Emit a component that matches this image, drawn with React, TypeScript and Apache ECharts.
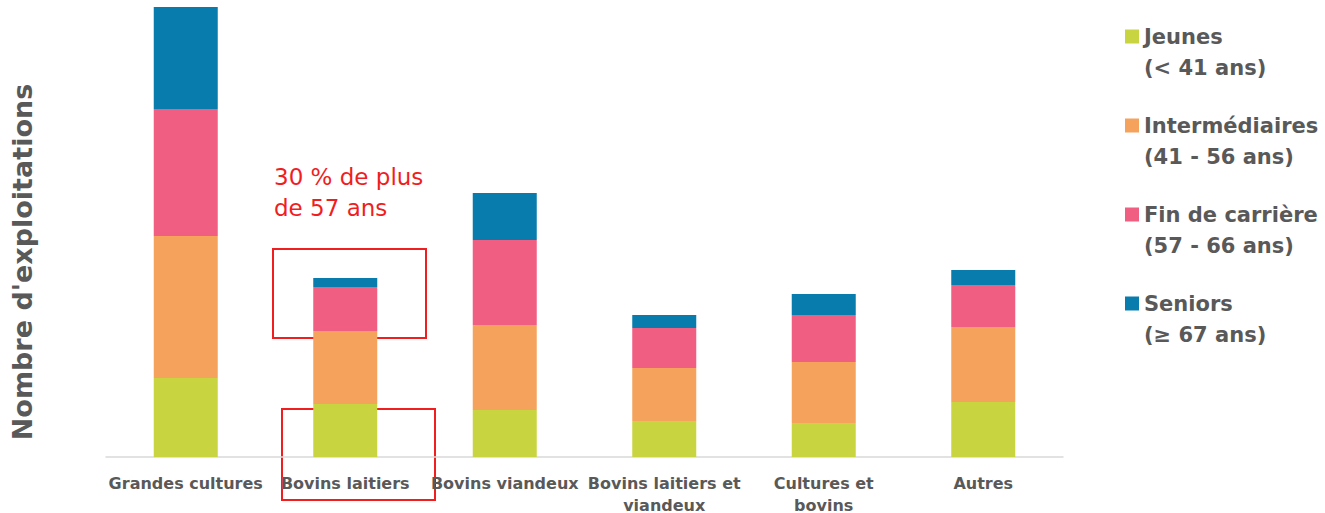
import React, { useEffect, useRef } from "react";
import * as echarts from "echarts";

const categories = [
  "Grandes cultures",
  "Bovins laitiers",
  "Bovins viandeux",
  "Bovins laitiers et viandeux",
  "Cultures et bovins",
  "Autres",
];
const tickLabels = [
  "Grandes cultures",
  "Bovins laitiers",
  "Bovins viandeux",
  "Bovins laitiers et\nviandeux",
  "Cultures et\nbovins",
  "Autres",
];
const seriesNames = [
  "Jeunes\n(< 41 ans)",
  "Intermédiaires\n(41 - 56 ans)",
  "Fin de carrière\n(57 - 66 ans)",
  "Seniors\n(≥ 67 ans)",
];
const jeunes = [79, 53, 47, 36, 34, 55];
const intermediaires = [142, 73, 85, 53, 61, 75];
const finCarriere = [127, 44, 85, 40, 47, 42];
const seniors = [102, 9, 47, 13, 21, 15];
const colors = ["#C8D440", "#F5A35C", "#F05E82", "#077CAD"];

const FONT = "'DejaVu Sans', sans-serif";
const GREY = "#595959";

export default function App() {
  const ref = useRef<HTMLDivElement>(null);
  useEffect(() => {
    if (!ref.current) return;
    const chart = echarts.init(ref.current, undefined, { renderer: "svg" });
    const values = [jeunes, intermediaires, finCarriere, seniors];
    chart.setOption({
      animation: false,
      grid: {
        left: 106,
        right: 262,
        top: 7,
        bottom: 56,
        outerBoundsMode: "none",
        containLabel: false,
      },
      legend: {
        orient: "vertical",
        left: 1125,
        top: -10,
        padding: 0,
        itemWidth: 14,
        itemHeight: 14,
        itemGap: -4,
        icon: "rect",
        data: seriesNames,
        formatter: (name: string) => "\n" + name,
        textStyle: {
          fontFamily: FONT,
          fontWeight: "bold",
          fontSize: 21,
          color: GREY,
          lineHeight: 31,
        },
      },
      xAxis: {
        type: "category",
        data: categories,
        axisLine: { lineStyle: { color: "#D9D9D9", width: 1.5 } },
        axisTick: { show: false },
        axisLabel: {
          interval: 0,
          margin: 15,
          fontFamily: FONT,
          fontWeight: "bold",
          fontSize: 16,
          color: GREY,
          lineHeight: 22,
          formatter: (_v: string, i: number) => tickLabels[i],
        },
      },
      yAxis: {
        type: "value",
        min: 0,
        max: 450,
        axisLabel: { show: false },
        axisLine: { show: false },
        axisTick: { show: false },
        splitLine: { show: false },
      },
      series: values.map((d, i) => ({
        name: seriesNames[i],
        type: "bar",
        stack: "total",
        barWidth: 64,
        data: d,
        itemStyle: { color: colors[i] },
      })),
      graphic: [
        {
          type: "text",
          x: 22,
          y: 262,
          rotation: Math.PI / 2,
          style: {
            text: "Nombre d'exploitations",
            fontFamily: FONT,
            fontWeight: "bold",
            fontSize: 27,
            fill: GREY,
            align: "center",
            verticalAlign: "middle",
          },
        },
        {
          type: "text",
          left: 274,
          top: 161,
          style: {
            text: "30 % de plus\nde 57 ans",
            fontFamily: FONT,
            fontSize: 23,
            lineHeight: 31,
            fill: "#F01E1E",
          },
        },
        {
          type: "rect",
          shape: { x: 273, y: 249, width: 153, height: 89 },
          style: { fill: "none", stroke: "#F01E1E", lineWidth: 2 },
        },
        {
          type: "rect",
          shape: { x: 282, y: 409, width: 153, height: 91 },
          style: { fill: "none", stroke: "#F01E1E", lineWidth: 2 },
        },
      ],
    });
    return () => chart.dispose();
  }, []);
  return (
    <div
      ref={ref}
      style={{ position: "absolute", left: 0, top: 0, width: 1325, height: 513 }}
    />
  );
}
